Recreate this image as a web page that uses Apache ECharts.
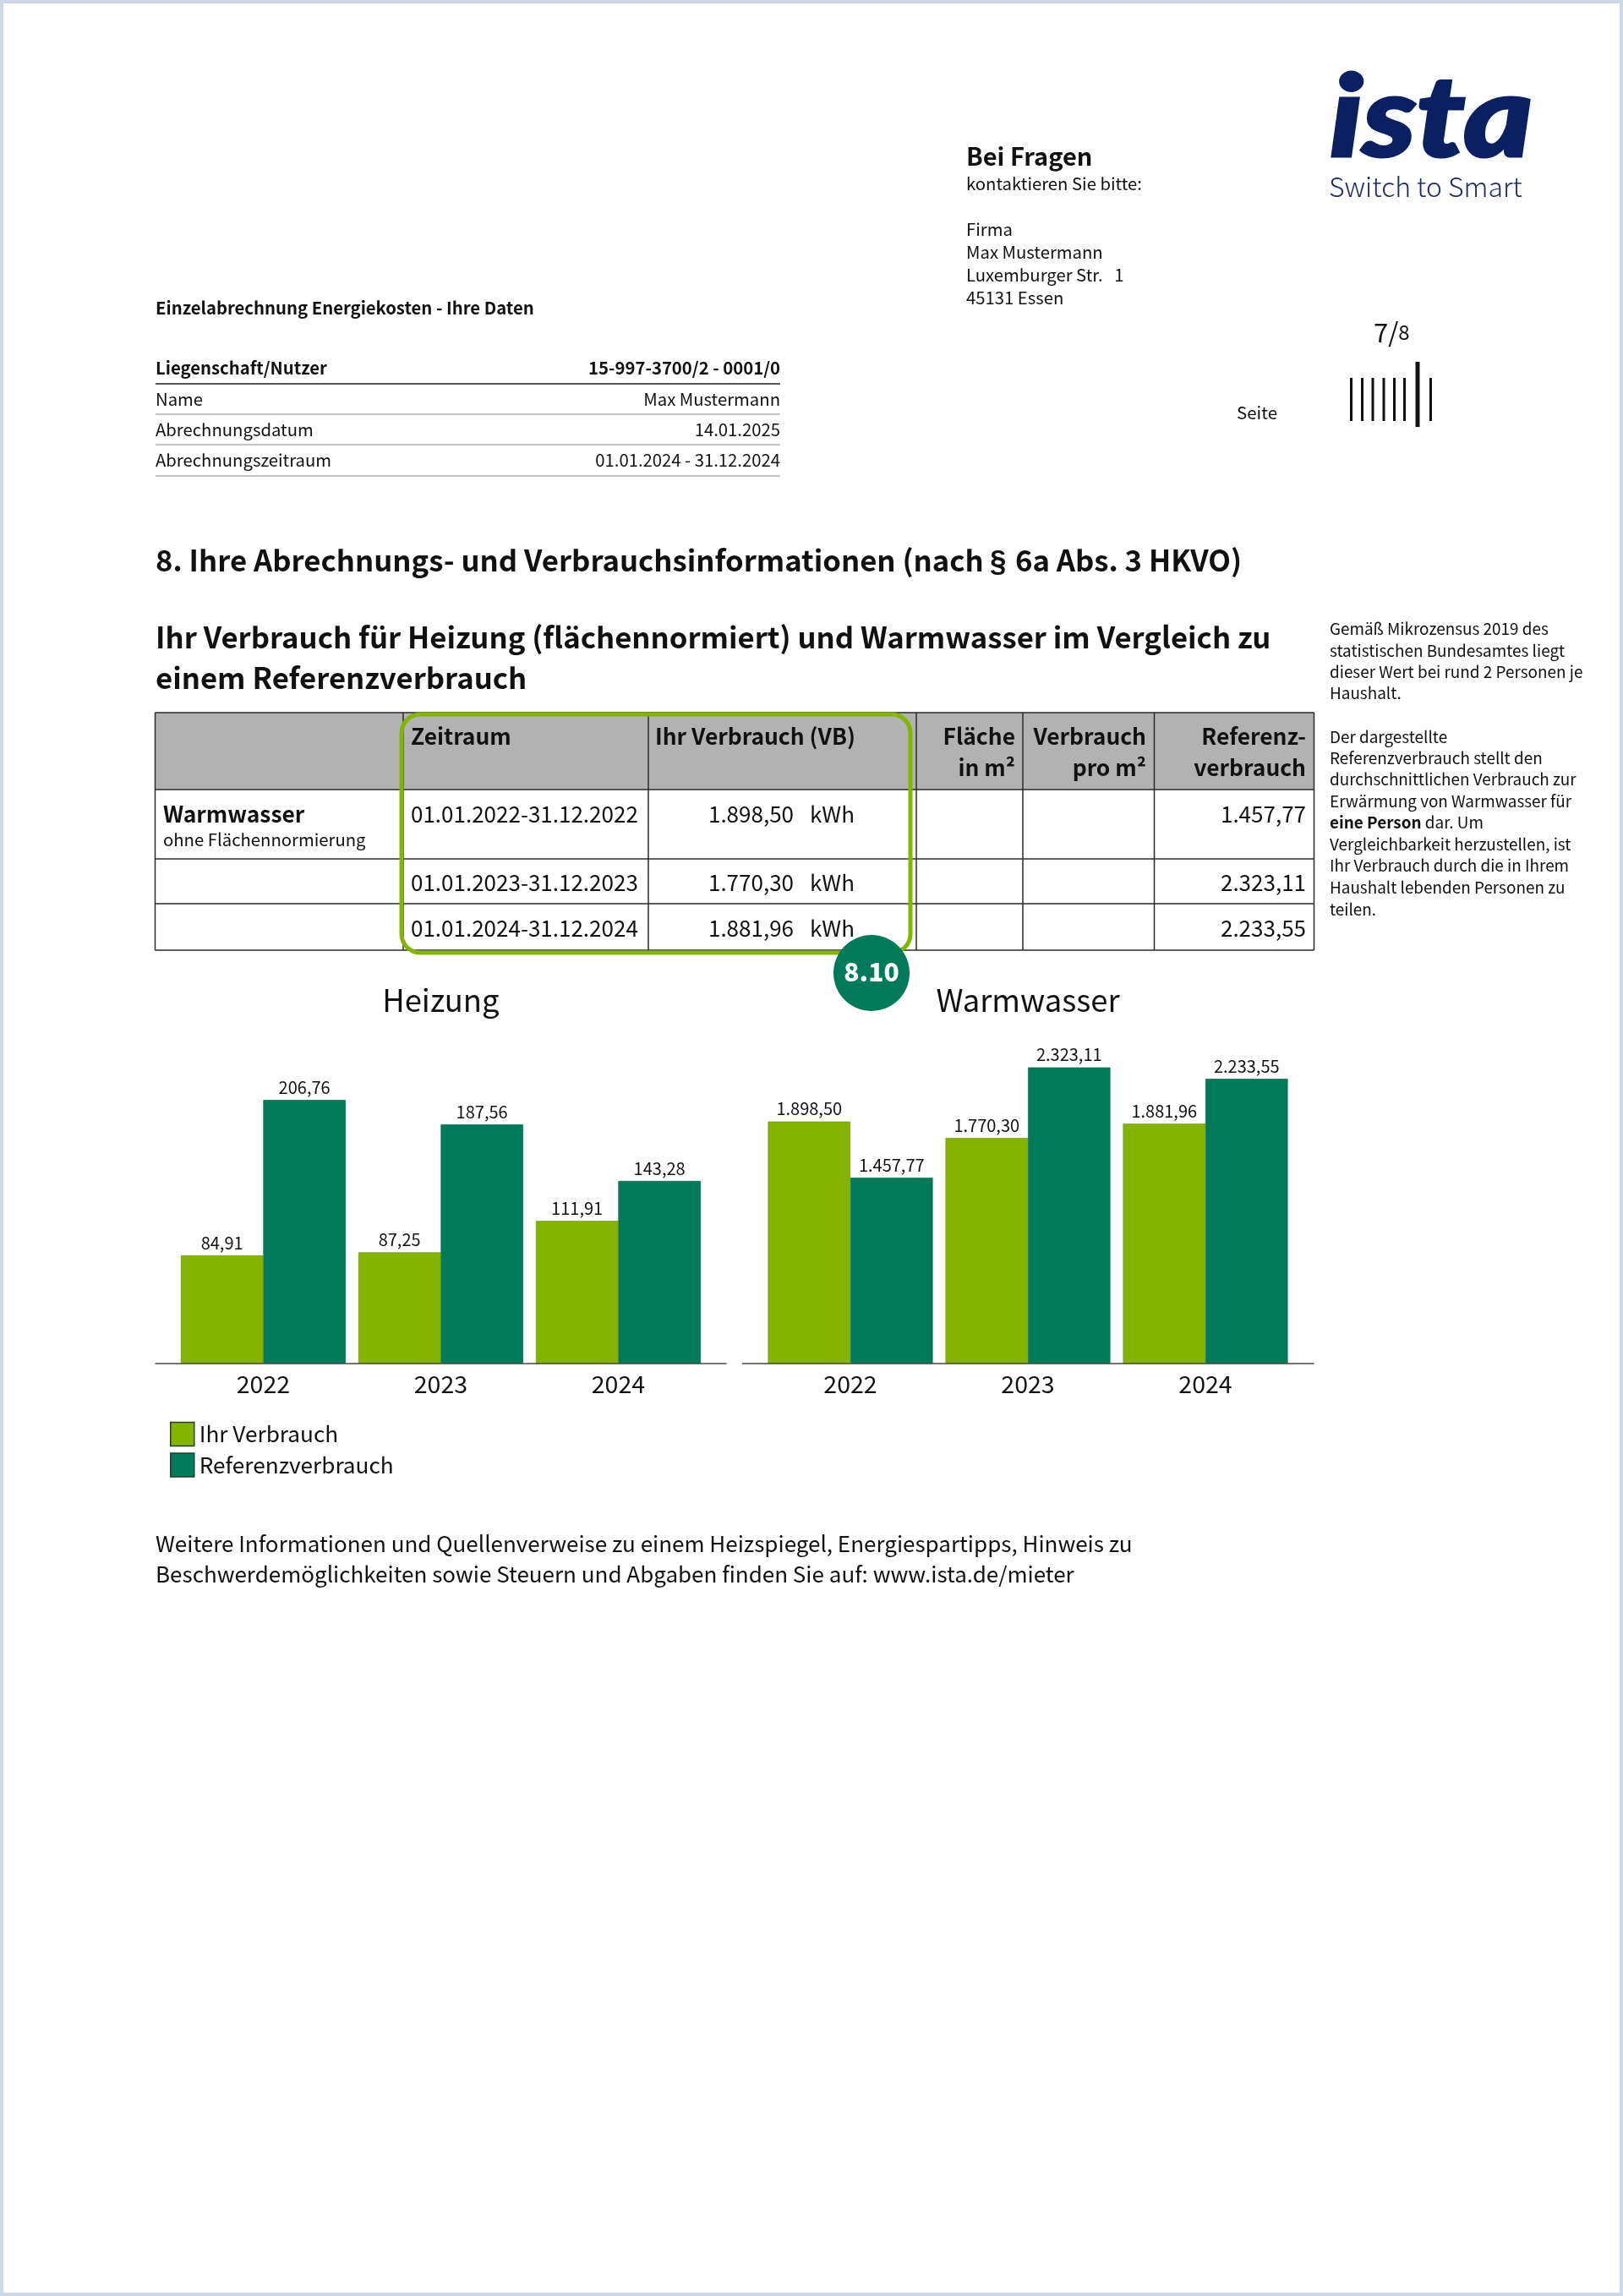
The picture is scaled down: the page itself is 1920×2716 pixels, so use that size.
<!DOCTYPE html>
<html lang="de">
<head>
<meta charset="utf-8">
<title>Ihre Abrechnungs- und Verbrauchsinformationen</title>
<script src="https://cdn.jsdelivr.net/npm/echarts@6/dist/echarts.min.js"></script>
<style>html,body{margin:0;padding:0;background:#fff}#page{width:1920px;height:2716px}</style>
</head>
<body>
<div id="page"></div>
<script>
const years = ['2022', '2023', '2024'];
const heizungIhr = [84.91, 87.25, 111.91];
const heizungRef = [206.76, 187.56, 143.28];
const warmwasserIhr = [1898.50, 1770.30, 1881.96];
const warmwasserRef = [1457.77, 2323.11, 2233.55];
const seriesNames = ['Ihr Verbrauch', 'Referenzverbrauch'];
const chartTitles = ['Heizung', 'Warmwasser'];
const periods = ['01.01.2022-31.12.2022', '01.01.2023-31.12.2023', '01.01.2024-31.12.2024'];
const dataLabels = ['Liegenschaft/Nutzer', 'Name', 'Abrechnungsdatum', 'Abrechnungszeitraum'];
const dataValues = ['15-997-3700/2 - 0001/0', 'Max Mustermann', '14.01.2025', '01.01.2024 - 31.12.2024'];
const contactLines = ['Firma', 'Max Mustermann', 'Luxemburger Str.   1', '45131 Essen'];
const noteLines = ['Gemäß Mikrozensus 2019 des', 'statistischen Bundesamtes liegt', 'dieser Wert bei rund 2 Personen je', 'Haushalt.', '',
  'Der dargestellte', 'Referenzverbrauch stellt den', 'durchschnittlichen Verbrauch zur', 'Erwärmung von Warmwasser für',
  '{b|eine Person} dar. Um', 'Vergleichbarkeit herzustellen, ist', 'Ihr Verbrauch durch die in Ihrem', 'Haushalt lebenden Personen zu', 'teilen.'];
const footerLines = ['Weitere Informationen und Quellenverweise zu einem Heizspiegel, Energiespartipps, Hinweis zu',
  'Beschwerdemöglichkeiten sowie Steuern und Abgaben finden Sie auf: www.ista.de/mieter'];

const FONT = '"Noto Sans CJK SC", "Noto Sans", sans-serif';
const LIGHT = '#84b400', DARK = '#007a58', NAVY = '#0b2060', INK = '#111';
const fmt = v => v.toLocaleString('de-DE', {minimumFractionDigits: 2, maximumFractionDigits: 2});

const g = [];
function T(text, x, y, size, o) {
  o = o || {};
  g.push({type: 'text', z: o.z || 5, scaleX: o.sx || 1, originX: x, originY: y,
    style: {text, x, y, fontSize: size, fontFamily: o.font || FONT, fontWeight: o.w || 400, fontStyle: o.st || 'normal',
      fill: o.c || INK, align: o.a || 'left', verticalAlign: 'middle', rich: o.rich,
      stroke: o.stroke, lineWidth: o.stroke ? o.sw : 0}});
}
function L(x1, y1, x2, y2, c, w, z) {
  g.push({type: 'line', z: z || 4, shape: {x1, y1, x2, y2}, style: {stroke: c, lineWidth: w}});
}
function R(x, y, w, h, f, z) {
  g.push({type: 'rect', z: z || 1, shape: {x, y, width: w, height: h}, style: {fill: f}});
}

// page frame
g.push({type: 'rect', z: 0, shape: {x: 2, y: 2, width: 1916, height: 2712}, style: {fill: '#fff', stroke: '#cdd8e6', lineWidth: 4}});

// logo
T('ista', 1573, 142, 134, {w: 900, st: 'italic', c: NAVY, font: 'Lato, "Open Sans", sans-serif', sx: 1.16, stroke: NAVY, sw: 3});
T('Switch to Smart', 1572, 221, 32, {c: '#1c2c62', w: 300});

// contact block
T('Bei Fragen', 1143, 185, 29, {w: 700});
T('kontaktieren Sie bitte:', 1143, 217, 20.3);
contactLines.forEach((t, i) => T(t, 1143, [271, 298, 325, 352][i], 20.3));

// page marker
T('{a|7/}{c|8}', 1625, 393, 30, {rich: {a: {fontSize: 31, fontFamily: FONT, fill: INK}, c: {fontSize: 24, fontFamily: FONT, fill: INK}}});
T('Seite', 1463, 488, 20.5);
[1598.5, 1611.5, 1624, 1637, 1649.5, 1661.5, 1692.5].forEach(x => L(x, 447, x, 498, '#111', 3));
L(1677, 428, 1677, 505, '#111', 5);

// data block
T('Einzelabrechnung Energiekosten - Ihre Daten', 184, 364, 20.3, {w: 700});
[435, 472, 508, 544].forEach((y, i) => {
  T(dataLabels[i], 184, y, 20.3, {w: i ? 400 : 700});
  T(dataValues[i], 923, y, 20.3, {w: i ? 400 : 700, a: 'right'});
});
L(184, 454, 923, 454, '#222', 1.5);
[490, 526, 563].forEach(y => L(184, y, 923, y, '#c4c4c4', 2));

// headings
T('8. Ihre Abrechnungs- und Verbrauchsinformationen (nach', 184, 663, 34.7, {w: 700});
T('§', 1171, 665, 35, {w: 700, font: '"Liberation Sans", sans-serif'});
T('6a Abs. 3 HKVO)', 1201, 663, 34.7, {w: 700});
T('Ihr Verbrauch für Heizung (flächennormiert) und Warmwasser im Vergleich zu', 184, 754, 34.7, {w: 700});
T('einem Referenzverbrauch', 184, 802, 34.7, {w: 700});

// side notes
const noteY = [744, 769.5, 795, 820, 846, 871.5, 897, 922, 947.5, 973, 998.5, 1024, 1050, 1075.5];
noteLines.forEach((t, i) => { if (t) T(t, 1573, noteY[i], 18.9, {rich: {b: {fontSize: 18.9, fontFamily: FONT, fontWeight: 700, fill: INK}}}); });

// table
const colX = [183.5, 477, 767, 1084, 1210, 1365.5, 1554.5];
const rowY = [843, 934, 1016, 1069, 1124];
const textY = [963, 1044, 1098];
R(colX[0], rowY[0], colX[6] - colX[0], rowY[1] - rowY[0], '#b2b2b2', 1);
rowY.forEach(y => L(colX[0], y, colX[6], y, '#2a2a2a', 1.5));
colX.forEach(x => L(x, rowY[0], x, rowY[4], '#2a2a2a', 1.5));
T('Zeitraum', 486, 871, 26.4, {w: 700});
T('Ihr Verbrauch (VB)', 775, 871, 26.4, {w: 700});
T('Fläche', 1201, 871, 26.4, {w: 700, a: 'right'});
T('in m²', 1201, 908, 26.4, {w: 700, a: 'right'});
T('Verbrauch', 1356, 871, 26.4, {w: 700, a: 'right'});
T('pro m²', 1356, 908, 26.4, {w: 700, a: 'right'});
T('Referenz-', 1545, 871, 26.4, {w: 700, a: 'right'});
T('verbrauch', 1545, 908, 26.4, {w: 700, a: 'right'});
T('Warmwasser', 193, 963, 26.4, {w: 700});
T('ohne Flächennormierung', 193, 993, 20.3);
periods.forEach((p, i) => {
  T(p, 486, textY[i], 26);
  T(fmt(warmwasserIhr[i]), 939, textY[i], 26, {a: 'right'});
  T('kWh', 958, textY[i], 26);
  T(fmt(warmwasserRef[i]), 1545, textY[i], 26, {a: 'right'});
});

// highlight frame and badge
g.push({type: 'rect', z: 8, shape: {x: 475, y: 845, width: 602, height: 282, r: 22}, style: {fill: 'none', stroke: LIGHT, lineWidth: 5}});
g.push({type: 'circle', z: 9, shape: {cx: 1031, cy: 1151, r: 45}, style: {fill: DARK}});
T('8.10', 1031, 1150, 30, {w: 900, c: '#fff', a: 'center', z: 10});

// chart baselines
L(183.5, 1613, 859.5, 1613, '#444', 1.5, 10);
L(878, 1613, 1554.5, 1613, '#444', 1.5, 10);

// footer
T(footerLines[0], 184, 1826, 26);
T(footerLines[1], 184, 1862, 26);

const grids = [{left: 206.4, top: 1236, width: 630, height: 377}, {left: 901, top: 1236, width: 630, height: 377}];
const barLabel = {show: true, position: 'top', distance: 5, fontSize: 20, fontFamily: FONT, color: INK, formatter: p => fmt(p.value)};
function barSeries(name, data, idx, color, edge) {
  return {type: 'bar', name, data, xAxisIndex: idx, yAxisIndex: idx, barGap: 0, barCategoryGap: '7.14%',
    itemStyle: {color, borderColor: edge, borderWidth: 0.75}, label: barLabel, emphasis: {disabled: true}};
}
const chart = echarts.init(document.getElementById('page'), null, {width: 1920, height: 2716});
chart.setOption({
  animation: false,
  backgroundColor: '#fff',
  title: chartTitles.map((text, i) => ({text, left: grids[i].left + grids[i].width / 2 - 5, top: 1160, textAlign: 'center',
    textStyle: {fontFamily: FONT, fontWeight: 400, fontSize: 36.4, color: INK}})),
  legend: {show: true, orient: 'vertical', left: 196, top: 1673.5, itemWidth: 28, itemHeight: 28, itemGap: 0.5, data: seriesNames, icon: 'rect',
    itemStyle: {borderColor: '#2a3a2a', borderWidth: 1.5},
    textStyle: {fontFamily: FONT, fontSize: 26.2, lineHeight: 26, color: INK, padding: [10, 0, 0, 1]}},
  grid: grids,
  xAxis: grids.map((_, i) => ({type: 'category', gridIndex: i, data: years, axisLine: {show: false}, axisTick: {show: false},
    axisLabel: {fontFamily: FONT, fontSize: 28.5, color: INK, margin: 10}})),
  yAxis: [{type: 'value', gridIndex: 0, min: 0, max: 250, show: false}, {type: 'value', gridIndex: 1, min: 0, max: 2500, show: false}],
  series: [
    barSeries(seriesNames[0], heizungIhr, 0, LIGHT, '#739c10'),
    barSeries(seriesNames[1], heizungRef, 0, DARK, '#0e6a50'),
    barSeries(seriesNames[0], warmwasserIhr, 1, LIGHT, '#739c10'),
    barSeries(seriesNames[1], warmwasserRef, 1, DARK, '#0e6a50')
  ],
  graphic: {elements: g}
});
</script>
</body>
</html>
